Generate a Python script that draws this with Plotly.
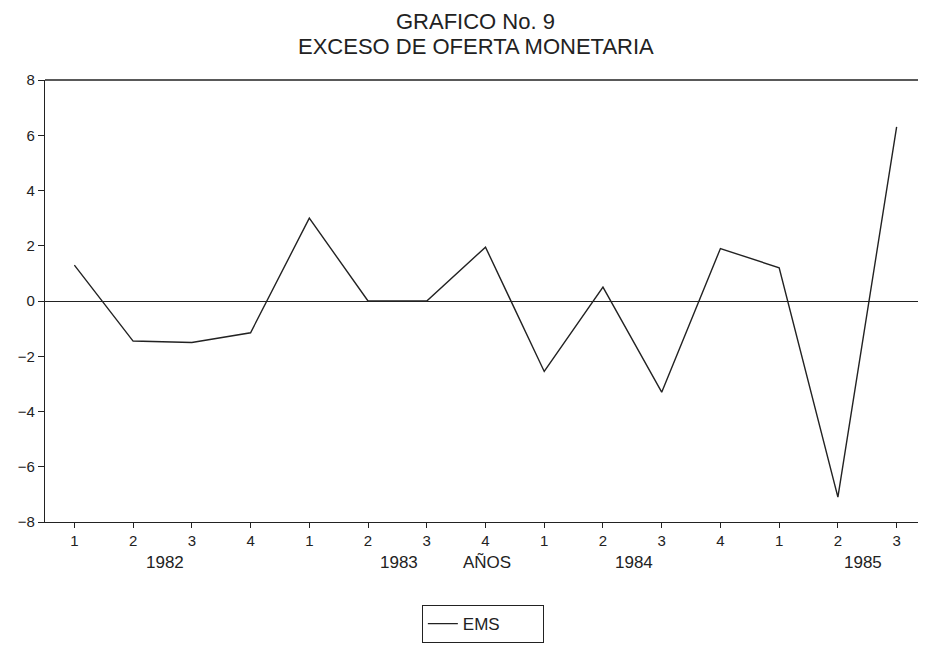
import plotly.graph_objects as go

quarters = ["1", "2", "3", "4", "1", "2", "3", "4", "1", "2", "3", "4", "1", "2", "3"]
ems = [1.3, -1.45, -1.5, -1.15, 3.0, 0.0, 0.0, 1.95, -2.55, 0.5, -3.3, 1.9, 1.2, -7.1, 6.3]
year_labels = ["1982", "1983", "AÑOS", "1984", "1985"]
year_label_idx = [1.55, 5.53, 7.03, 9.52, 13.42]
y_ticks = [-8, -6, -4, -2, 0, 2, 4, 6, 8]
title_lines = ["GRAFICO No. 9", "EXCESO DE OFERTA MONETARIA"]

x = list(range(len(ems)))
font_family = "Liberation Sans, Arial, sans-serif"
ink = "#222222"

fig = go.Figure()
fig.add_trace(go.Scatter(
    x=x, y=ems, mode="lines", name="EMS",
    line=dict(color=ink, width=1.4),
))

for lbl, pos in zip(year_labels, year_label_idx):
    fig.add_annotation(x=pos, y=-0.0905, xref="x", yref="paper", text=lbl,
                       showarrow=False, font=dict(size=17, color=ink, family=font_family),
                       xanchor="center", yanchor="middle")

for txt, yy in zip(title_lines, [1.1324, 1.0758]):
    fig.add_annotation(x=0.489, y=yy, xref="paper", yref="paper", text=txt,
                       showarrow=False, font=dict(size=22, color=ink, family=font_family),
                       xanchor="center", yanchor="middle")

# top border
fig.add_shape(type="line", xref="paper", yref="paper", x0=0, x1=1, y0=1, y1=1,
              line=dict(color=ink, width=1.4))

fig.update_layout(
    width=918, height=643,
    margin=dict(l=37, r=0, t=72, b=129),
    paper_bgcolor="white", plot_bgcolor="white",
    font=dict(family=font_family, color=ink),
    showlegend=True,
    legend=dict(x=0.497, xanchor="center", y=-0.188, yanchor="top",
                orientation="h", bordercolor=ink, borderwidth=1,
                font=dict(size=17, color=ink, family=font_family),
                bgcolor="white", entrywidth=75),
    xaxis=dict(range=[-0.5, 14.5], tickvals=x, ticktext=quarters, automargin=False,
               showgrid=False, zeroline=False, showline=True, linecolor=ink, linewidth=1.4,
               ticks="outside", ticklen=5, tickcolor=ink, tickwidth=1,
               tickfont=dict(size=15, color=ink, family=font_family)),
    yaxis=dict(range=[-8, 8], tickvals=y_ticks, automargin=False,
               showgrid=False, zeroline=True, zerolinecolor=ink, zerolinewidth=1.2,
               showline=True, linecolor=ink, linewidth=1.4,
               ticks="outside", ticklen=6, tickcolor=ink, tickwidth=1,
               tickfont=dict(size=15, color=ink, family=font_family)),
)

fig.write_html("out.html")
